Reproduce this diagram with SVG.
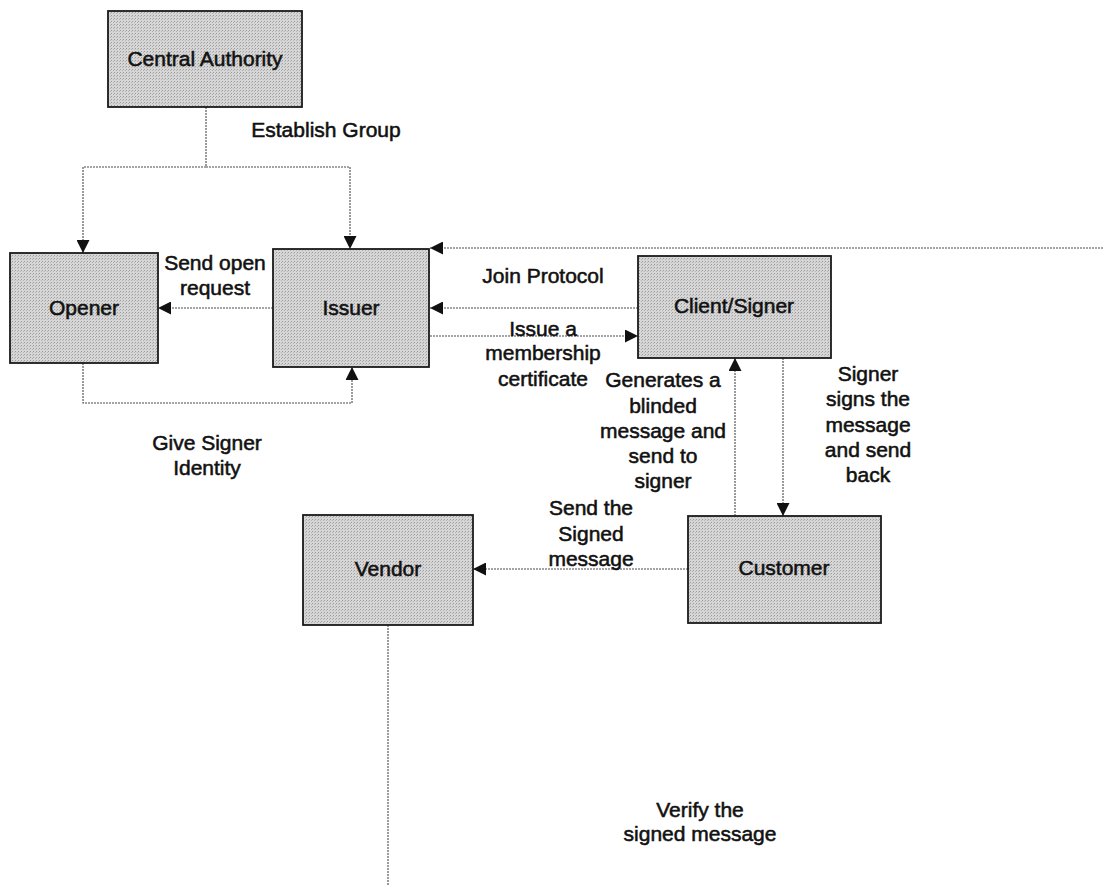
<svg xmlns="http://www.w3.org/2000/svg" width="1103" height="886" viewBox="0 0 1103 886">
<defs>
<pattern id="stip" width="3" height="3" patternUnits="userSpaceOnUse">
<rect width="3" height="3" fill="#d6d6d6"/>
<rect x="0" y="0" width="1" height="1" fill="#9c9c9c"/>
<rect x="2" y="1" width="1" height="1" fill="#b4b4b4"/>
</pattern>
<marker id="ah" viewBox="0 0 13 13" refX="13" refY="6.5" markerWidth="13" markerHeight="13" markerUnits="userSpaceOnUse" orient="auto">
<path d="M0,0 L13,6.5 L0,13 Z" fill="#111"/>
</marker>
<style>
.box{fill:url(#stip);stroke:#1a1a1a;stroke-width:1.8}
.t{font-family:"Liberation Sans",Arial,sans-serif;font-size:21px;fill:#111;stroke:#111;stroke-width:0.55;text-anchor:middle}
.c{fill:none;stroke:#4a4a4a;stroke-width:1.1;stroke-dasharray:2 1}
.a{marker-end:url(#ah)}
</style>
</defs>
<rect width="1103" height="886" fill="#fff"/>
<g id="connectors">
<path class="c a" d="M206,107 V167 H83 V253"/>
<path class="c a" d="M206,167 H350 V249"/>
<path class="c a" d="M273,308 H158"/>
<path class="c a" d="M83,363 V403 H352 V367"/>
<path class="c a" d="M1103,248 H430"/>
<path class="c a" d="M638,308 H430"/>
<path class="c a" d="M430,336 H638"/>
<path class="c a" d="M735,516 V358"/>
<path class="c a" d="M783,358 V516"/>
<path class="c a" d="M688,569 H473"/>
<path class="c" d="M388,625 V886"/>
</g>
<g id="central-authority">
<rect class="box" x="108" y="11" width="194" height="96"/>
<text class="t" x="205" y="66">Central Authority</text>
</g>
<g id="opener">
<rect class="box" x="10" y="253" width="148" height="110"/>
<text class="t" x="84" y="315">Opener</text>
</g>
<g id="issuer">
<rect class="box" x="273" y="249" width="156" height="118"/>
<text class="t" x="351" y="315">Issuer</text>
</g>
<g id="client-signer">
<rect class="box" x="638" y="256" width="193" height="102"/>
<text class="t" x="734" y="313">Client/Signer</text>
</g>
<g id="vendor">
<rect class="box" x="303" y="515" width="170" height="110"/>
<text class="t" x="388" y="576">Vendor</text>
</g>
<g id="customer">
<rect class="box" x="688" y="516" width="193" height="107"/>
<text class="t" x="784" y="575">Customer</text>
</g>
<g id="labels">
<text class="t" x="326" y="137">Establish Group</text>
<text class="t" x="215" y="270">Send open</text>
<text class="t" x="215" y="295">request</text>
<text class="t" x="207" y="450">Give Signer</text>
<text class="t" x="207" y="475">Identity</text>
<text class="t" x="543" y="283">Join Protocol</text>
<text class="t" x="543" y="336">Issue a</text>
<text class="t" x="543" y="360">membership</text>
<text class="t" x="543" y="386">certificate</text>
<text class="t" x="663" y="387">Generates a</text>
<text class="t" x="663" y="413">blinded</text>
<text class="t" x="663" y="438">message and</text>
<text class="t" x="663" y="463">send to</text>
<text class="t" x="663" y="488">signer</text>
<text class="t" x="868" y="381">Signer</text>
<text class="t" x="868" y="406">signs the</text>
<text class="t" x="868" y="432">message</text>
<text class="t" x="868" y="457">and send</text>
<text class="t" x="868" y="482">back</text>
<text class="t" x="591" y="515">Send the</text>
<text class="t" x="591" y="541">Signed</text>
<text class="t" x="591" y="566">message</text>
<text class="t" x="700" y="817">Verify the</text>
<text class="t" x="700" y="841">signed message</text>
</g>
</svg>
